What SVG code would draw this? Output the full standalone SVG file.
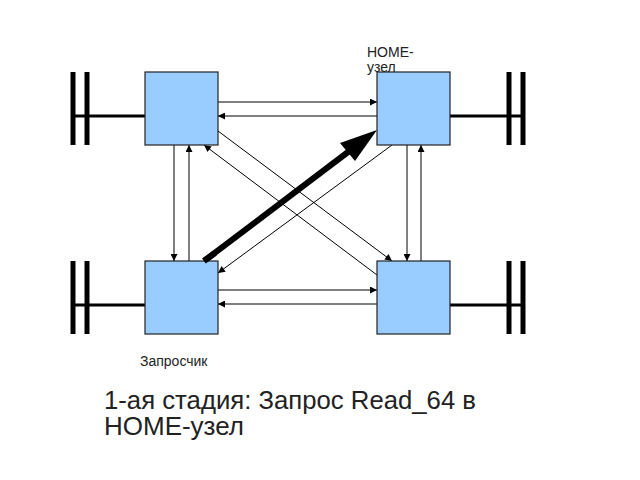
<svg xmlns="http://www.w3.org/2000/svg" width="640" height="480" viewBox="0 0 640 480">
<style>
.node{fill:#99ccff;stroke:#222;stroke-width:1.2}
.c{stroke:#000;stroke-width:1;fill:none}
.bar{stroke:#000;stroke-width:5}
.stub{stroke:#000;stroke-width:3}
text{font-family:'Liberation Sans',Arial,Helvetica,sans-serif;fill:#222}
</style>
<defs>
<marker id="a" viewBox="0 0 10 10" refX="10" refY="5" markerWidth="8" markerHeight="7" markerUnits="userSpaceOnUse" orient="auto">
<path d="M0,0 L10,5 L0,10 z" fill="#000"/>
</marker>
</defs>
<rect width="640" height="480" fill="#fff"/>
<text x="367" y="57" font-size="14">HOME-</text>
<text x="367" y="72" font-size="14">узел</text>
<g id="terminals">
<line class="bar" x1="73" y1="72" x2="73" y2="145"/><line class="bar" x1="87" y1="72" x2="87" y2="145"/><line class="stub" x1="72" y1="116" x2="145" y2="116"/>
<line class="bar" x1="509" y1="72" x2="509" y2="145"/><line class="bar" x1="523" y1="72" x2="523" y2="145"/><line class="stub" x1="450" y1="116" x2="523" y2="116"/>
<line class="bar" x1="73" y1="261" x2="73" y2="334"/><line class="bar" x1="87" y1="261" x2="87" y2="334"/><line class="stub" x1="72" y1="305" x2="145" y2="305"/>
<line class="bar" x1="509" y1="261" x2="509" y2="334"/><line class="bar" x1="523" y1="261" x2="523" y2="334"/><line class="stub" x1="450" y1="305" x2="523" y2="305"/>
</g>
<g id="connectors">
<line class="c" x1="218" y1="102" x2="377" y2="102" marker-end="url(#a)"/>
<line class="c" x1="377" y1="116" x2="218" y2="116" marker-end="url(#a)"/>
<line class="c" x1="218" y1="290" x2="377" y2="290" marker-end="url(#a)"/>
<line class="c" x1="377" y1="304" x2="218" y2="304" marker-end="url(#a)"/>
<line class="c" x1="174" y1="145" x2="174" y2="261" marker-end="url(#a)"/>
<line class="c" x1="189" y1="261" x2="189" y2="145" marker-end="url(#a)"/>
<line class="c" x1="407" y1="145" x2="407" y2="261" marker-end="url(#a)"/>
<line class="c" x1="421" y1="261" x2="421" y2="145" marker-end="url(#a)"/>
<line class="c" x1="218" y1="131" x2="392" y2="261" marker-end="url(#a)"/>
<line class="c" x1="377" y1="275" x2="204" y2="145" marker-end="url(#a)"/>
<line class="c" x1="392" y1="145" x2="218" y2="273" marker-end="url(#a)"/>
<line stroke="#000" stroke-width="6" x1="204" y1="261" x2="352" y2="149"/>
<polygon points="377,130 340,143 355,161" fill="#000"/>
</g>
<g id="n1"><rect class="node" x="145" y="72" width="73" height="73"/></g>
<g id="n2"><rect class="node" x="377" y="72" width="73" height="73"/></g>
<g id="n3"><rect class="node" x="145" y="261" width="73" height="73"/></g>
<g id="n4"><rect class="node" x="377" y="261" width="73" height="73"/></g>
<line stroke="#000" stroke-width="6" x1="204" y1="261" x2="215" y2="253"/>
<text x="140" y="366" font-size="14">Запросчик</text>
<text x="104" y="409" font-size="25" textLength="372" lengthAdjust="spacingAndGlyphs">1-ая стадия: Запрос Read_64 в</text>
<text x="104" y="435" font-size="25" textLength="140" lengthAdjust="spacingAndGlyphs">HOME-узел</text>
</svg>
